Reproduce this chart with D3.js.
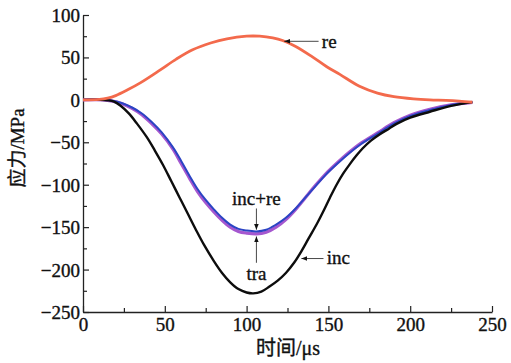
<!DOCTYPE html>
<html>
<head>
<meta charset="utf-8">
<script src="https://cdn.jsdelivr.net/npm/d3@7"></script>
<style>
  body { margin: 0; background: #fff; }
  svg text { font-family: "Liberation Serif", "Noto Sans CJK SC", serif; fill: #111; stroke: #111; stroke-width: 0.35; }
</style>
</head>
<body>
<div id="chart"></div>
<script>
// time in microseconds, stress in MPa
const reT   = [0, 10, 15, 20, 27, 35, 47, 57, 67, 78, 88, 100, 108, 116, 122, 130, 140, 149, 157, 169, 180, 190, 202, 212, 222, 230, 238];
const reV   = [0, 0.5, 2, 5, 11.5, 20, 35, 48, 59, 67, 72, 75, 75, 73, 70, 63, 51, 39, 30, 16, 8, 3.8, 1.2, 0, -0.6, -1.5, -2.8];

const incT  = [0, 10, 15, 19, 23, 28, 33, 39, 44, 49, 54, 59, 64, 69, 74, 80, 85, 90, 95, 100, 104, 109, 114, 119, 124, 129, 133, 138, 143, 147, 151, 155, 159, 163, 167, 171, 176, 181, 187, 192, 200, 212, 225, 238];
const incV  = [0, 0, -0.5, -2, -7, -16, -28, -44, -60, -77, -96, -115, -134, -153, -171, -190, -204, -215, -223, -227, -228, -226, -220, -213, -204, -192, -180, -163, -146, -131, -115, -100, -87, -76, -66, -57, -48, -41, -34, -28, -21, -14, -7, -2.6];

const traT  = [0, 12, 18, 24, 30, 36, 42, 48, 55, 60, 65, 70, 75, 80, 85, 90, 95, 100, 106, 112, 118, 124, 130, 136, 142, 148, 155, 162, 170, 180, 190, 200, 212, 225, 238];
const traV  = [0, 0, -1, -4, -9, -16, -26, -38, -56, -72, -89, -105, -118, -129, -139, -147, -152, -154, -155, -153, -147, -139, -128, -115, -102, -89, -76, -64, -52, -40, -28, -19, -12, -6, -2.6];

const sumT  = [0, 12, 18, 24, 30, 36, 42, 48, 55, 60, 65, 70, 75, 80, 85, 90, 95, 100, 106, 112, 118, 124, 130, 136, 142, 148, 155, 162, 170, 180, 190, 200, 212, 225, 238];
const sumV  = [0, 0, -1.5, -4.5, -10, -17.5, -28, -40, -58, -75, -92, -108, -121, -132, -142, -150, -155, -157, -158, -156, -150, -141, -129, -115, -101, -88, -75, -63, -51, -39, -27, -18, -11, -6, -3];

const xTicks = [0, 50, 100, 150, 200, 250];
const yTicks = [100, 50, 0, -50, -100, -150, -200, -250];

const margin = {top: 15, right: 19, bottom: 51, left: 83};
const W = 511, H = 363;
const width = W - margin.left - margin.right;
const height = H - margin.top - margin.bottom;

const x = d3.scaleLinear().domain([0, 250]).range([0, width]);
const y = d3.scaleLinear().domain([-250, 100]).range([height, 0]);

const svg = d3.select("#chart").append("svg")
    .attr("width", W)
    .attr("height", H);

const defs = svg.append("defs");
defs.append("marker")
    .attr("id", "arr")
    .attr("viewBox", "0 0 10 10")
    .attr("refX", 10).attr("refY", 5)
    .attr("markerWidth", 6).attr("markerHeight", 6)
    .attr("markerUnits", "userSpaceOnUse")
    .attr("orient", "auto")
    .append("path")
    .attr("d", "M0,1 L10,5 L0,9 Z")
    .attr("fill", "#111");

const g = svg.append("g")
    .attr("transform", "translate(" + margin.left + "," + margin.top + ")");

// axes, ticks point inward
const minorX = d3.range(25, 250, 50);
const minorY = d3.range(-225, 100, 50);

g.append("g")
    .attr("class", "x-axis")
    .attr("transform", "translate(0," + height + ")")
    .call(d3.axisBottom(x).tickValues(xTicks).tickSizeInner(-6).tickSizeOuter(0).tickPadding(5));

g.append("g")
    .attr("class", "x-minor")
    .attr("transform", "translate(0," + height + ")")
    .call(d3.axisBottom(x).tickValues(minorX).tickSizeInner(-4).tickSizeOuter(0).tickFormat(""));

g.append("g")
    .attr("class", "y-axis")
    .call(d3.axisLeft(y).tickValues(yTicks).tickSizeInner(-6).tickSizeOuter(0).tickPadding(3));

g.append("g")
    .attr("class", "y-minor")
    .call(d3.axisLeft(y).tickValues(minorY).tickSizeInner(-4).tickSizeOuter(0).tickFormat(""));

g.selectAll(".domain").attr("stroke", "#222").attr("stroke-width", 1.3);
g.selectAll(".tick line").attr("stroke", "#222").attr("stroke-width", 1.2);
g.selectAll(".x-minor .domain, .y-minor .domain").remove();
g.selectAll(".x-axis text, .y-axis text")
    .attr("font-size", 19)
    .attr("font-family", "Liberation Serif")
    .attr("fill", "#111");
g.selectAll(".y-axis text").attr("dy", "0.34em");
g.selectAll(".x-axis text").attr("dy", "0.72em");

// curves
const line = d3.line()
    .x(d => x(d[0]))
    .y(d => y(d[1]))
    .curve(d3.curveCatmullRom.alpha(0.5));

const zip = (ts, vs) => ts.map((t, i) => [t, vs[i]]);

g.append("path")
    .datum(zip(sumT, sumV))
    .attr("fill", "none")
    .attr("stroke", "#a557cf")
    .attr("stroke-width", 3.2)
    .attr("d", line);

g.append("path")
    .datum(zip(traT, traV))
    .attr("fill", "none")
    .attr("stroke", "#2b44c4")
    .attr("stroke-width", 2)
    .attr("d", line);

g.append("path")
    .datum(zip(incT, incV))
    .attr("fill", "none")
    .attr("stroke", "#0d0d0d")
    .attr("stroke-width", 2.4)
    .attr("d", line);

g.append("path")
    .datum(zip(reT, reV))
    .attr("fill", "none")
    .attr("stroke", "#f36a4c")
    .attr("stroke-width", 2.8)
    .attr("d", line);

// annotations (in data units)
function arrow(t0, v0, t1, v1) {
    g.append("line")
        .attr("x1", x(t0)).attr("y1", y(v0))
        .attr("x2", x(t1)).attr("y2", y(v1))
        .attr("stroke", "#333")
        .attr("stroke-width", 0.9)
        .attr("marker-end", "url(#arr)");
}
function label(t, v, txt, anchor) {
    g.append("text")
        .attr("x", x(t)).attr("y", y(v))
        .attr("text-anchor", anchor)
        .attr("font-size", 19)
        .text(txt);
}

arrow(144, 69, 123, 69);
label(146, 61, "re", "start");

arrow(106, -128, 106, -153);
label(106, -124, "inc+re", "middle");

arrow(106, -192, 106, -161);
label(106, -212, "tra", "middle");

arrow(147, -187, 133.5, -187);
label(149, -193, "inc", "start");

// axis titles
svg.append("text")
    .attr("transform", "translate(24,148) rotate(-90)")
    .attr("text-anchor", "middle")
    .attr("font-size", 19)
    .text("应力/MPa");

svg.append("text")
    .attr("x", 288)
    .attr("y", 355)
    .attr("text-anchor", "middle")
    .attr("font-size", 20)
    .text("时间/μs");
</script>
</body>
</html>
